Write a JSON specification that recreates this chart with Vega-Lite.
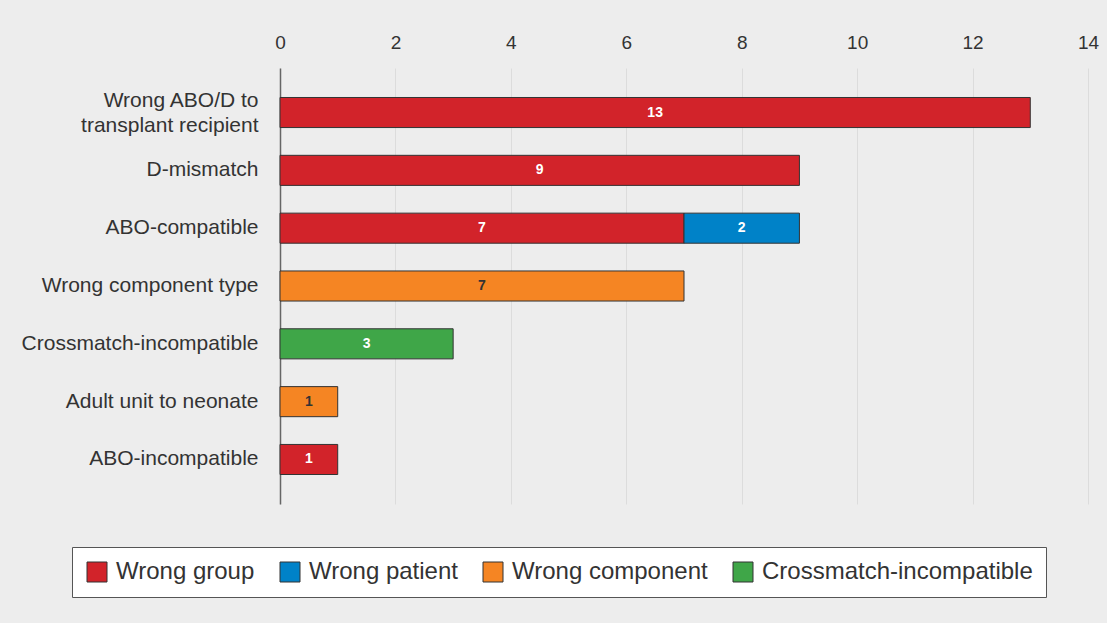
{
  "$schema": "https://vega.github.io/schema/vega-lite/v6.json",
  "width": 808,
  "height": 436,
  "autosize": {"type": "none"},
  "padding": {"left": 280, "top": 68, "right": 19, "bottom": 119},
  "background": "#ededed",
  "config": {"font": "Liberation Sans", "view": {"stroke": null}},
  "data": {
    "values": [
      {"cause": "Wrong ABO/D to transplant recipient", "category": "Wrong group", "count": 13},
      {"cause": "D-mismatch", "category": "Wrong group", "count": 9},
      {"cause": "ABO-compatible", "category": "Wrong group", "count": 7},
      {"cause": "ABO-compatible", "category": "Wrong patient", "count": 2},
      {"cause": "Wrong component type", "category": "Wrong component", "count": 7},
      {"cause": "Crossmatch-incompatible", "category": "Crossmatch-incompatible", "count": 3},
      {"cause": "Adult unit to neonate", "category": "Wrong component", "count": 1},
      {"cause": "ABO-incompatible", "category": "Wrong group", "count": 1}
    ]
  },
  "transform": [
    {"stack": "count", "groupby": ["cause"], "sort": [{"field": "category", "order": "ascending"}], "as": ["x0", "x1"]}
  ],
  "layer": [
    {
      "mark": {"type": "bar", "stroke": "#333333", "strokeWidth": 1},
      "encoding": {
        "y": {
          "field": "cause", "type": "nominal",
          "sort": ["Wrong ABO/D to transplant recipient", "D-mismatch", "ABO-compatible", "Wrong component type", "Crossmatch-incompatible", "Adult unit to neonate", "ABO-incompatible"],
          "scale": {"paddingInner": 0.48, "paddingOuter": 0.51, "align": 0.5},
          "axis": {
            "title": null, "ticks": false, "domain": true, "domainColor": "#666666", "domainWidth": 1.5,
            "labelFontSize": 21, "labelColor": "#333333", "labelPadding": 22, "labelLimit": 300,
            "labelLineHeight": 25,
            "labelOffset": {"condition": {"test": "datum.value == 'Wrong ABO/D to transplant recipient'", "value": -12}, "value": 0},
            "labelExpr": "datum.label == 'Wrong ABO/D to transplant recipient' ? ['Wrong ABO/D to', 'transplant recipient'] : datum.label"
          }
        },
        "x": {
          "field": "x0", "type": "quantitative",
          "scale": {"domain": [0, 14], "nice": false},
          "axis": {
            "orient": "top", "title": null, "values": [0, 2, 4, 6, 8, 10, 12, 14], "format": "d",
            "domain": false, "ticks": false, "grid": true, "gridColor": "#dcdcdc", "gridWidth": 1,
            "labelFontSize": 19, "labelColor": "#333333", "labelPadding": 16, "labelFlush": false
          }
        },
        "x2": {"field": "x1"},
        "color": {
          "field": "category", "type": "nominal",
          "scale": {
            "domain": ["Wrong group", "Wrong patient", "Wrong component", "Crossmatch-incompatible"],
            "range": ["#d2232a", "#0082c8", "#f58523", "#3fa648"]
          },
          "legend": {
            "title": null, "orient": "none", "direction": "horizontal",
            "legendX": -208, "legendY": 479,
            "fillColor": "white", "strokeColor": "#555555", "padding": 13,
            "symbolType": "square", "symbolSize": 400, "symbolStrokeColor": "#333333", "symbolStrokeWidth": 1, "symbolOpacity": 1,
            "labelFontSize": 24, "labelColor": "#333333", "labelOffset": 7, "labelLimit": 400,
            "columnPadding": 23
          }
        }
      }
    },
    {
      "transform": [
        {"fold": ["x0", "x1"], "as": ["k", "v"]},
        {"aggregate": [{"op": "mean", "field": "v", "as": "mid"}], "groupby": ["cause", "category", "count"]}
      ],
      "mark": {"type": "text", "fontSize": 14, "fontWeight": "bold", "baseline": "middle", "align": "center"},
      "encoding": {
        "y": {
          "field": "cause", "type": "nominal",
          "sort": ["Wrong ABO/D to transplant recipient", "D-mismatch", "ABO-compatible", "Wrong component type", "Crossmatch-incompatible", "Adult unit to neonate", "ABO-incompatible"]
        },
        "x": {"field": "mid", "type": "quantitative"},
        "text": {"field": "count", "type": "quantitative"},
        "color": {
          "condition": {"test": "datum.category === 'Wrong component'", "value": "#333333"},
          "value": "#ffffff"
        }
      }
    }
  ]
}
